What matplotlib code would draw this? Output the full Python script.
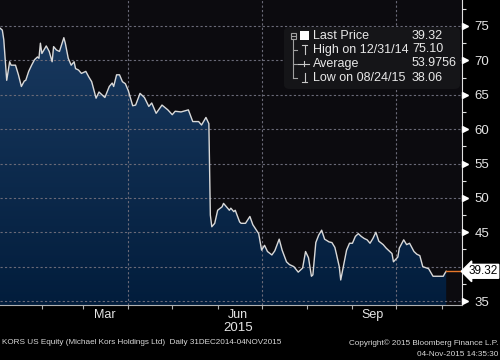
import matplotlib
matplotlib.use('Agg')
import matplotlib.pyplot as plt
import matplotlib.dates as mdates
from matplotlib.patches import FancyBboxPatch, Rectangle
from matplotlib.lines import Line2D
import numpy as np
import pandas as pd

# KORS daily close
dates = ['2014-12-31', '2015-01-02', '2015-01-05', '2015-01-06', '2015-01-08', '2015-01-10',
         '2015-01-11', '2015-01-14', '2015-01-16', '2015-01-18', '2015-01-20', '2015-01-21',
         '2015-01-23', '2015-01-25', '2015-01-27', '2015-01-29', '2015-01-30', '2015-01-31',
         '2015-02-01', '2015-02-04', '2015-02-06', '2015-02-08', '2015-02-09', '2015-02-11',
         '2015-02-13', '2015-02-16', '2015-02-17', '2015-02-19', '2015-02-21', '2015-02-23',
         '2015-02-24', '2015-02-26', '2015-02-28', '2015-03-03', '2015-03-05', '2015-03-07',
         '2015-03-10', '2015-03-12', '2015-03-14', '2015-03-16', '2015-03-19', '2015-03-21',
         '2015-03-22', '2015-03-24', '2015-03-26', '2015-03-28', '2015-03-30', '2015-04-01',
         '2015-04-04', '2015-04-06', '2015-04-09', '2015-04-12', '2015-04-15', '2015-04-17',
         '2015-04-20', '2015-04-24', '2015-04-28', '2015-05-01', '2015-05-03', '2015-05-07',
         '2015-05-12', '2015-05-15', '2015-05-19', '2015-05-21', '2015-05-24', '2015-05-26',
         '2015-05-27', '2015-05-28', '2015-05-30', '2015-06-01', '2015-06-04', '2015-06-05',
         '2015-06-07', '2015-06-09', '2015-06-10', '2015-06-12', '2015-06-13', '2015-06-16',
         '2015-06-17', '2015-06-20', '2015-06-23', '2015-06-25', '2015-06-29', '2015-07-01',
         '2015-07-03', '2015-07-05', '2015-07-08', '2015-07-10', '2015-07-13', '2015-07-15',
         '2015-07-18', '2015-07-20', '2015-07-23', '2015-07-26', '2015-07-29', '2015-07-31',
         '2015-08-02', '2015-08-04', '2015-08-05', '2015-08-07', '2015-08-09', '2015-08-11',
         '2015-08-13', '2015-08-16', '2015-08-18', '2015-08-20', '2015-08-21', '2015-08-23',
         '2015-08-24', '2015-08-28', '2015-08-30', '2015-09-01', '2015-09-03', '2015-09-05',
         '2015-09-07', '2015-09-09', '2015-09-11', '2015-09-13', '2015-09-15', '2015-09-17',
         '2015-09-19', '2015-09-22', '2015-09-24', '2015-09-26', '2015-09-28', '2015-09-29',
         '2015-10-02', '2015-10-03', '2015-10-06', '2015-10-08', '2015-10-10', '2015-10-13',
         '2015-10-15', '2015-10-17', '2015-10-19', '2015-10-23', '2015-10-26', '2015-10-30',
         '2015-11-02', '2015-11-03', '2015-11-04']
prices = [75.10, 74.95, 74.4, 73.0, 67.1, 69.8,
          69.3, 69.3, 67.9, 66.2, 67.0, 67.1,
          68.4, 69.3, 70.1, 70.5, 70.3, 72.5,
          71.0, 72.1, 71.3, 69.8, 72.0, 71.5,
          71.3, 73.3, 72.5, 70.3, 69.3, 69.8,
          68.8, 68.6, 68.1, 68.4, 67.6, 66.9,
          64.5, 65.4, 65.0, 64.6, 66.2, 66.7,
          66.2, 67.9, 67.9, 66.9, 66.6, 65.6,
          63.4, 63.5, 65.2, 64.6, 63.3, 63.8,
          62.3, 63.5, 62.8, 62.1, 62.6, 62.5,
          62.8, 61.1, 61.1, 60.6, 61.7, 60.8,
          47.5, 45.8, 46.3, 48.2, 48.7, 49.2,
          48.7, 48.2, 48.5, 48.0, 48.2, 46.5,
          46.3, 46.3, 47.3, 46.1, 44.8, 42.4,
          43.1, 42.2, 41.7, 42.3, 44.0, 42.4,
          40.7, 40.3, 40.0, 39.2, 39.8, 42.2,
          41.3, 38.6, 38.8, 43.5, 44.6, 45.3,
          44.0, 43.6, 43.5, 42.8, 41.9, 40.0,
          38.06, 42.4, 43.4, 43.4, 44.4, 44.8,
          44.4, 44.1, 43.9, 43.4, 44.1, 45.0,
          43.7, 43.2, 42.7, 42.3, 41.9, 40.7,
          41.4, 42.7, 43.9, 43.2, 43.4, 42.2,
          41.8, 41.6, 40.0, 39.7, 38.6, 38.6,
          38.6, 39.0, 39.32]

y_ticks = [35, 40, 45, 50, 55, 60, 65, 70, 75]
y_labels = ['35', '', '45', '50', '55', '60', '65', '70', '75']  # 40 hidden behind the last-price tag
month_labels = ['Mar', 'Jun', 'Sep']
month_label_dates = ['2015-03-16', '2015-06-15', '2015-09-15']
quarter_lines = ['2015-04-01', '2015-07-01', '2015-10-01']
legend_names = ['Last Price', 'High on 12/31/14', 'Average', 'Low on 08/24/15']
legend_values = ['39.32', '75.10', '53.9756', '38.06']

plt.rcParams['font.family'] = ['Liberation Sans', 'DejaVu Sans']

W, H = 500, 360
def fx(x):
    return x / W
def fy(y):
    return 1 - y / H

x = pd.to_datetime(dates)
x_left = pd.Timestamp('2015-01-03 10:00')
x_right = pd.Timestamp('2015-11-14 19:00')
y_lo, y_hi = 34.42, 78.78

fig = plt.figure(figsize=(5, 3.6), dpi=100, facecolor='black')
ax = fig.add_axes([0, fy(305), fx(462), 305 / H])
ax.set_facecolor('#0c0b0f')

# gradient area fill under the line
poly = ax.fill_between(x, prices, y_lo, color='none', lw=0)
grad = np.linspace(0, 1, 256).reshape(-1, 1)
cmap = matplotlib.colors.LinearSegmentedColormap.from_list('bb', ['#1b3c63', '#021d3c'])
im = ax.imshow(grad, cmap=cmap, aspect='auto', origin='upper',
               extent=[mdates.date2num(x_left), mdates.date2num(x_right), y_lo, y_hi], zorder=1)
im.set_clip_path(poly.get_paths()[0], transform=ax.transData)
ax.set_xlim(x_left, x_right)
ax.set_ylim(y_lo, y_hi)

ax.plot(x, prices, color='#d9d9d9', lw=1, zorder=3)

# grid
for yv in y_ticks:
    ax.axhline(yv, color='#6a6a78', lw=0.8, ls=(0, (2, 2)), zorder=2)
for d in quarter_lines:
    ax.axvline(pd.Timestamp(d), color='#6a6a78', lw=0.8, ls=(0, (2, 2)), zorder=2)

# last price marker
last = prices[-1]
ax.plot([x[-1], x_right], [last, last], color='#e8782a', lw=1, zorder=3, clip_on=False)
ax.text(1.014, last, f'{last:.2f}', transform=ax.get_yaxis_transform(), ha='left', va='center',
        color='black', fontsize=8.5, zorder=5, clip_on=False,
        bbox=dict(boxstyle='larrow,pad=0.08', fc='white', ec='white'))

# axes styling
for s in ['top', 'left']:
    ax.spines[s].set_visible(False)
ax.spines['right'].set_color('#e0e0e0')
ax.spines['bottom'].set_color('#b0b0b0')

ax.yaxis.tick_right()
ax.set_yticks(y_ticks)
ax.set_yticklabels(y_labels)
ax.set_yticks(np.arange(37.5, 78, 5), minor=True)
ax.tick_params(axis='y', which='major', length=0, pad=9, colors='#e6e6e6', labelsize=9.5)
ax.tick_params(axis='y', which='minor', length=3, width=0.8, color='#e0e0e0', direction='out')
marks = [v for v, lab in zip(y_ticks, y_labels) if lab]
ax.plot(np.full(len(marks), 1.006), marks, ls='none', marker='>', ms=4.5, color='white',
        transform=ax.get_yaxis_transform(), clip_on=False, zorder=5)

ax.xaxis.set_major_locator(mdates.MonthLocator())
ax.xaxis.set_major_formatter(plt.NullFormatter())
ax.set_xticks(pd.to_datetime(month_label_dates), minor=True)
ax.set_xticklabels(month_labels, minor=True)
ax.tick_params(axis='x', which='major', length=3, width=0.8, color='#b0b0b0', direction='out')
ax.tick_params(axis='x', which='minor', length=0, pad=3, colors='#e6e6e6', labelsize=9)
ax.text(pd.Timestamp('2015-06-15'), -0.075, '2015', transform=ax.get_xaxis_transform(),
        ha='center', va='center', color='#e6e6e6', fontsize=9.5)

# legend panel
fig.add_artist(FancyBboxPatch((fx(284), fy(89)), fx(176), 62 / H, transform=fig.transFigure,
                              boxstyle='round,pad=0,rounding_size=0.012', fc='#151518', ec='none'))
row_y = [35.7, 49.5, 63.5, 77.7]
for name, val, ry in zip(legend_names, legend_values, row_y):
    fig.text(fx(313), fy(ry), name, color='#e8e8e8', fontsize=9, va='center', ha='left')
    fig.text(fx(412), fy(ry), val, color='#e8e8e8', fontsize=9, va='center', ha='left')

tree = '#a0a0a0'
def seg(x0, y0, x1, y1, c=tree, lw=0.8):
    fig.add_artist(Line2D([fx(x0), fx(x1)], [fy(y0), fy(y1)], transform=fig.transFigure, color=c, lw=lw))
fig.add_artist(Rectangle((fx(290.5), fy(38.5)), fx(5.5), 5.5 / H, transform=fig.transFigure,
                         fc='none', ec=tree, lw=0.8))
seg(291.8, 35.8, 294.8, 35.8)
seg(293.3, 38.5, 293.3, 77.7)
for ry in row_y[1:]:
    seg(293.3, ry, 297, ry)
fig.add_artist(Rectangle((fx(300), fy(40)), fx(8.5), 8.5 / H, transform=fig.transFigure,
                         fc='white', ec='none'))
seg(302, 44.5, 307, 44.5, c='#c8c8c8')
seg(304.5, 44.5, 304.5, 54, c='#c8c8c8')
seg(298, 63.5, 309, 63.5, c='#c8c8c8')
seg(303.5, 61, 303.5, 66, c='#c8c8c8')
seg(304.5, 73, 304.5, 82, c='#c8c8c8')
seg(302, 82, 307, 82, c='#c8c8c8')

# footer
fig.text(fx(2), fy(343), 'KORS US Equity (Michael Kors Holdings Ltd)  Daily 31DEC2014-04NOV2015',
         color='#d8d8d8', fontsize=5.9, va='center', ha='left')
fig.text(fx(498), fy(343), 'Copyright\u00a9 2015 Bloomberg Finance L.P.',
         color='#d8d8d8', fontsize=5.9, va='center', ha='right')
fig.text(fx(498), fy(355), '04-Nov-2015 14:35:30',
         color='#d8d8d8', fontsize=5.9, va='center', ha='right')

fig.savefig('out.png', dpi=100, facecolor='black')
